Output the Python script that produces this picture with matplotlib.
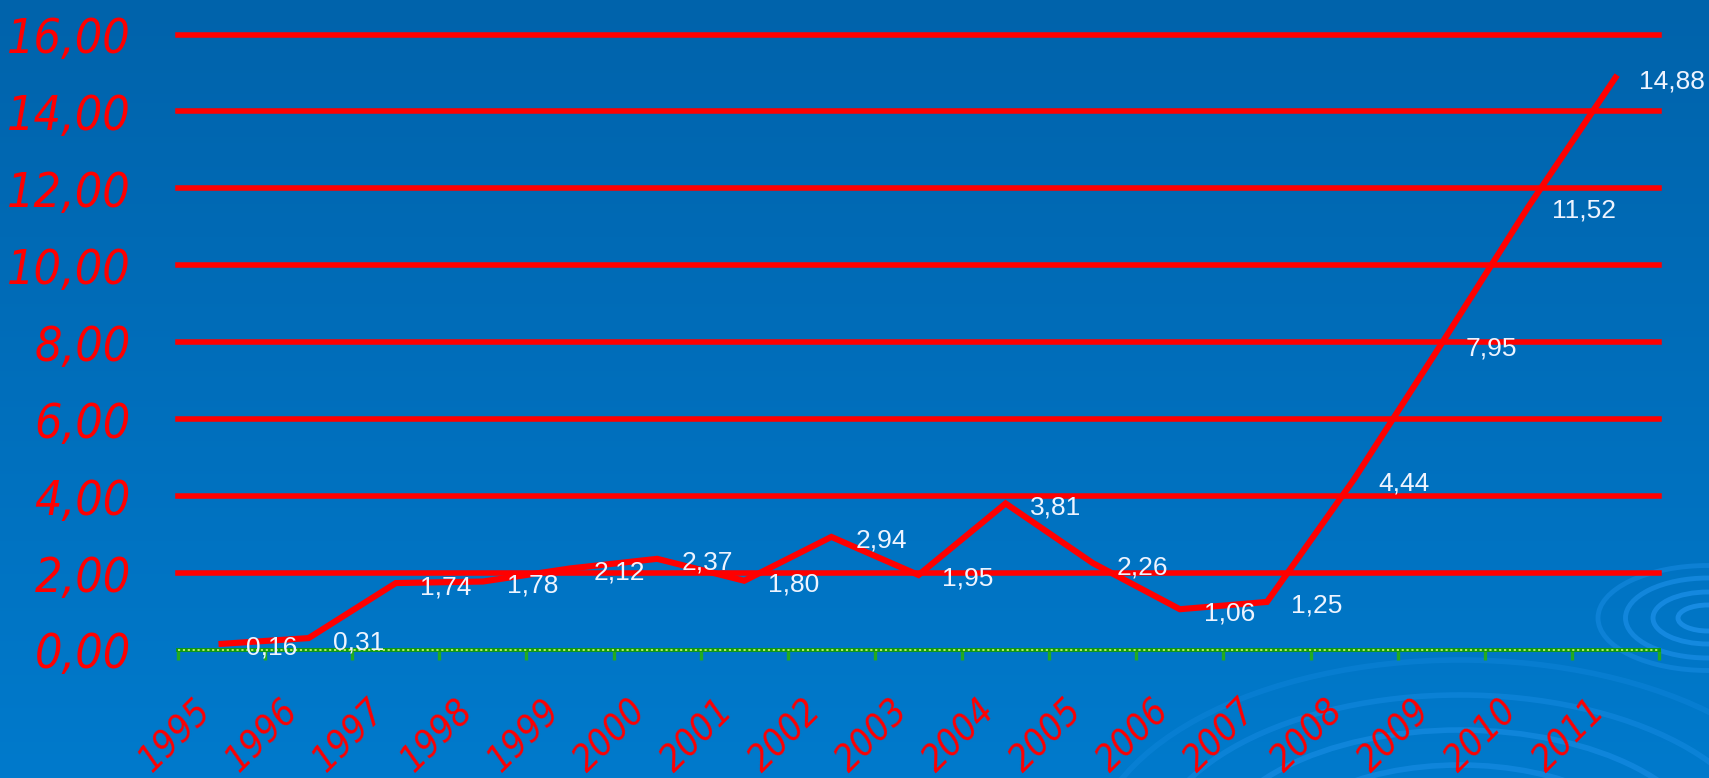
import numpy as np
import matplotlib
matplotlib.use("Agg")
import matplotlib.pyplot as plt
from matplotlib import font_manager
from matplotlib.font_manager import FontProperties
from matplotlib.patches import Ellipse
from matplotlib.textpath import TextToPath
from matplotlib.ticker import FixedLocator, FuncFormatter

# Yearly values shown on the chart
years = ["1995", "1996", "1997", "1998", "1999", "2000", "2001", "2002", "2003",
         "2004", "2005", "2006", "2007", "2008", "2009", "2010", "2011"]
values = [0.16, 0.31, 1.74, 1.78, 2.12, 2.37, 1.80, 2.94, 1.95,
          3.81, 2.26, 1.06, 1.25, 4.44, 7.95, 11.52, 14.88]
y_ticks = [0, 2, 4, 6, 8, 10, 12, 14, 16]

W, H, DPI = 1709, 778, 100


def pick_narrow_font():
    """Prefer a regular-weight condensed sans italic face; fall back to Liberation Sans italic."""
    narrow_words = ("narrow", "condensed", "cond")
    best, best_score = None, -1
    for f in font_manager.fontManager.ttflist:
        nm = f.name.lower()
        stretch = str(f.stretch).lower()
        is_narrow = "condensed" in stretch or any(k in nm for k in narrow_words)
        if not is_narrow or "mono" in nm or "serif" in nm or "cjk" in nm:
            continue
        score = 1
        if f.style in ("italic", "oblique"):
            score += 4
        try:
            wt = int(f.weight)
        except (TypeError, ValueError):
            wt = 700 if "bold" in str(f.weight) else 400
        if wt == 400:
            score += 3
        elif 500 <= wt <= 600:
            score += 1
        if "semi" in stretch:
            score -= 1
        if "liberation" in nm or "arial" in nm:
            score += 3
        elif "dejavu" in nm or "roboto" in nm:
            score += 1
        if score > best_score:
            best, best_score = f, score
    if best is not None:
        return FontProperties(fname=best.fname), best.style in ("italic", "oblique")
    return FontProperties(family="Liberation Sans", style="italic"), True


narrow_prop, narrow_is_italic = pick_narrow_font()
plain = "Liberation Sans"
ttp = TextToPath()


def size_for_width(text, width_px, prop):
    """Point size at which `text` spans `width_px` pixels."""
    p = prop.copy()
    p.set_size(100)
    w, _, _ = ttp.get_text_width_height_descent(text, p, ismath=False)
    return 100 * (width_px * 72 / DPI) / w


fig = plt.figure(figsize=(W / DPI, H / DPI), dpi=DPI)

# Blue gradient backdrop with soft ripple rings
bg = fig.add_axes([0, 0, 1, 1], zorder=0)
bg.set_axis_off()
grad = np.linspace(0, 1, 256).reshape(-1, 1)
top = np.array([0x00, 0x63, 0xAB]) / 255
bot = np.array([0x00, 0x7A, 0xCC]) / 255
img = top + (bot - top) * grad[..., None]
bg.imshow(img, aspect="auto", extent=[0, W, H, 0])
bg.set_xlim(0, W)
bg.set_ylim(H, 0)
ring = "#1a8ee6"
for w, h, a in [(60, 26, 0.9), (110, 52, 0.8), (165, 80, 0.7), (220, 105, 0.5)]:
    bg.add_patch(Ellipse((1708, 618), w, h, fill=False, ec=ring, lw=3.5, alpha=a))
for w, h, a in [(260, 120, 0.55), (380, 190, 0.6), (500, 260, 0.6),
                (620, 330, 0.45), (740, 400, 0.3)]:
    bg.add_patch(Ellipse((1460, 860), w, h, fill=False, ec=ring, lw=4, alpha=a))

# Plot area
x0, x1 = 178, 1659
y_zero, y_top = 650, 34.5
ax = fig.add_axes([x0 / W, 1 - y_zero / H, (x1 - x0) / W, (y_zero - y_top) / H],
                  zorder=1)
ax.patch.set_alpha(0)
for s in ax.spines.values():
    s.set_visible(False)

xs = np.arange(len(years))
ax.set_xlim(-0.5, len(years) - 0.5)
ax.set_ylim(0, 16)

# Red grid lines
for t in y_ticks[1:]:
    ax.axhline(t, color="#ff0000", lw=4.0, zorder=1, clip_on=False)

# Green dotted category axis
ax.axhline(0, color="#109a10", lw=2.8, zorder=2, clip_on=False)
ax.axhline(0, color="#c0f070", lw=1.3, dashes=(1.2, 1.5), zorder=3, clip_on=False)
ax.xaxis.set_major_locator(FixedLocator(np.arange(-0.5, len(years), 1.0)))
ax.tick_params(axis="x", direction="out", length=7, width=2.4, color="#22aa22",
               labelbottom=False)

# Red italic y labels with decimal comma
fmt = lambda v: f"{v:.2f}".replace(".", ",")
ax.yaxis.set_major_locator(FixedLocator(y_ticks))
ax.yaxis.set_major_formatter(FuncFormatter(lambda v, p: fmt(v)))
ytick_prop = narrow_prop.copy()
ytick_prop.set_size(min(42, size_for_width("16,00", 124, narrow_prop)))
if not narrow_is_italic:
    ytick_prop.set_style("italic")
ax.tick_params(axis="y", length=0, pad=34, labelcolor="#ff0000")
for lab in ax.get_yticklabels():
    lab.set_fontproperties(ytick_prop)

# Data line
ax.plot(xs, values, color="#ff0000", lw=4.4, solid_joinstyle="miter",
        zorder=4, clip_on=False)

# Value labels
for x, v in zip(xs, values):
    ax.annotate(fmt(v), (x, v), xytext=(24, -4),
                textcoords="offset pixels", ha="left", va="center",
                fontsize=19, color="#eef4ff", family=plain, zorder=5)

# Rotated year labels
xtick_prop = narrow_prop.copy()
xtick_prop.set_size(min(32, size_for_width("1995", 86, narrow_prop)))
if not narrow_is_italic:
    xtick_prop.set_style("italic")
for x, yr in zip(xs, years):
    ax.annotate(yr, (x, 0), xytext=(-46, -86), textcoords="offset pixels",
                ha="center", va="center", rotation=45, rotation_mode="anchor",
                fontproperties=xtick_prop, color="#ff0000",
                annotation_clip=False)

fig.savefig("out.png", dpi=DPI)
